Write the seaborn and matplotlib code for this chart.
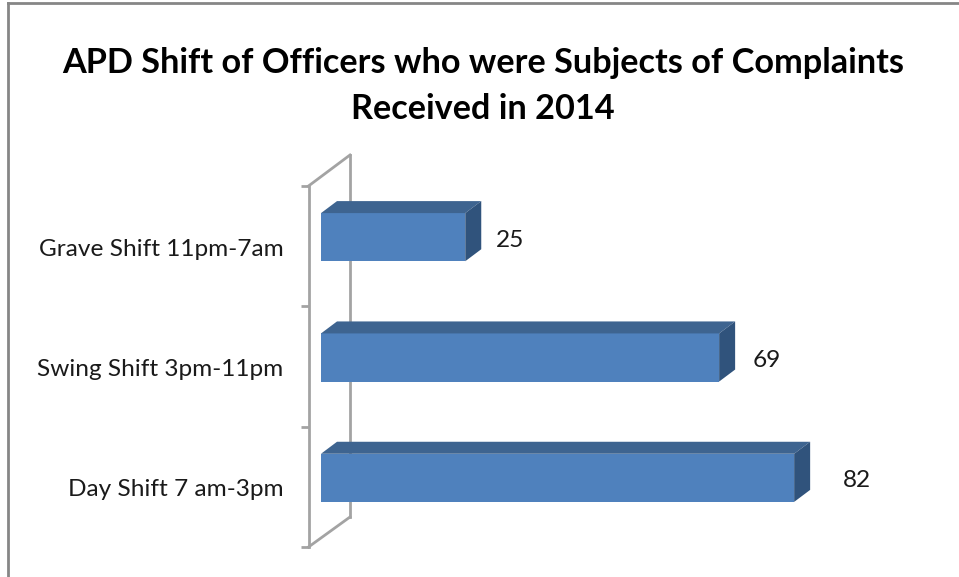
import matplotlib
matplotlib.use("Agg")
import matplotlib.pyplot as plt
import pandas as pd
import seaborn as sns
from matplotlib.lines import Line2D
from matplotlib.patches import Polygon
from matplotlib.transforms import IdentityTransform, ScaledTranslation

shifts = ["Grave Shift 11pm-7am", "Swing Shift 3pm-11pm", "Day Shift 7 am-3pm"]
complaints = [25, 69, 82]
label_gaps = [31, 33, 49]
title_lines = ["APD Shift of Officers who were Subjects of Complaints", "Received in 2014"]

FRONT = "#4F81BD"
TOP = "#3E6490"
SIDE = "#30537C"
WALL = "#A3A3A3"
FRAME = "#868686"
W, H, DPI = 959, 577, 100


def fig_line(fig, xs, ys, color=WALL, lw=2):
    """Linha em pixels da imagem (origem no topo)."""
    line = Line2D([x / W for x in xs], [1 - y / H for y in ys], color=color, lw=lw,
                  transform=fig.transFigure, zorder=-1, solid_capstyle="projecting")
    fig.add_artist(line)


sns.set_style("white")
plt.rcParams["font.family"] = ["Lato", "DejaVu Sans"]

df = pd.DataFrame({"shift": shifts, "complaints": complaints})

fig = plt.figure(figsize=(W / DPI, H / DPI), dpi=DPI)
ax = fig.add_axes([308.5 / W, 1 - 547 / H, 519.3 / W, 361 / H])
ax.patch.set_visible(False)

sns.barplot(data=df, x="complaints", y="shift", order=shifts, orient="h",
            color=FRONT, saturation=1, width=0.4, ax=ax)
ax.set_xlim(0, 90)
ax.set_ylim(2.5, -0.5)
ax.set_xlabel("")
ax.set_ylabel("")
ax.set_xticks([])

# eixo
sns.despine(ax=ax, top=True, right=True, bottom=True)
ax.spines["left"].set_color(WALL)
ax.spines["left"].set_linewidth(2)
ax.set_yticks([-0.5, 0.5, 1.5, 2.5], minor=True)
ax.tick_params(axis="y", which="minor", left=True, length=6, width=2, color=WALL)
ax.tick_params(axis="y", which="major", left=False, pad=14.5, labelsize=17.6, labelcolor="#1a1a1a")
for label in ax.get_yticklabels():
    label.set_transform(label.get_transform() + ScaledTranslation(0, -1 / DPI, fig.dpi_scale_trans))

# parede do fundo
fig_line(fig, [350, 350], [155, 517])
fig_line(fig, [308.5, 350], [186, 155])
fig_line(fig, [308.5, 350], [547, 517])

# moldura
fig_line(fig, [8, 8], [3, 577], color=FRAME)
fig_line(fig, [8, 959], [3, 3], color=FRAME)

# barras deslocadas na profundidade + faces de cima e do lado
bar_shift = ax.transData + ScaledTranslation(12.5 / DPI, 9 / DPI, fig.dpi_scale_trans)
dx, dy = 16, 12
for bar, value, gap in zip(ax.patches, complaints, label_gaps):
    bar.set_transform(bar_shift)
    bar.set_clip_on(False)
    bar.set_edgecolor("none")
    bar.set_zorder(3)
    (x0, y0), (x1, y1) = bar_shift.transform(
        [(bar.get_x(), bar.get_y() + bar.get_height()), (bar.get_x() + bar.get_width(), bar.get_y())])
    top = Polygon([(x0, y1), (x1, y1), (x1 + dx, y1 + dy), (x0 + dx, y1 + dy)], facecolor=TOP,
                  edgecolor="none", transform=IdentityTransform(), clip_on=False, zorder=3)
    side = Polygon([(x1, y0), (x1 + dx, y0 + dy), (x1 + dx, y1 + dy), (x1, y1)], facecolor=SIDE,
                   edgecolor="none", transform=IdentityTransform(), clip_on=False, zorder=3)
    ax.add_patch(top)
    ax.add_patch(side)
    fig.text((x1 + gap) / W, ((y0 + y1) / 2 - 3) / H, str(value), ha="left", va="center",
             fontsize=17.6, color="#1a1a1a")

fig.text(483 / W, 1 - 63 / H, title_lines[0], ha="center", va="center",
         fontsize=24.7, fontweight="bold", color="black")
fig.text(483 / W, 1 - 109 / H, title_lines[1], ha="center", va="center",
         fontsize=24.7, fontweight="bold", color="black")

fig.savefig("out.png", dpi=DPI)
